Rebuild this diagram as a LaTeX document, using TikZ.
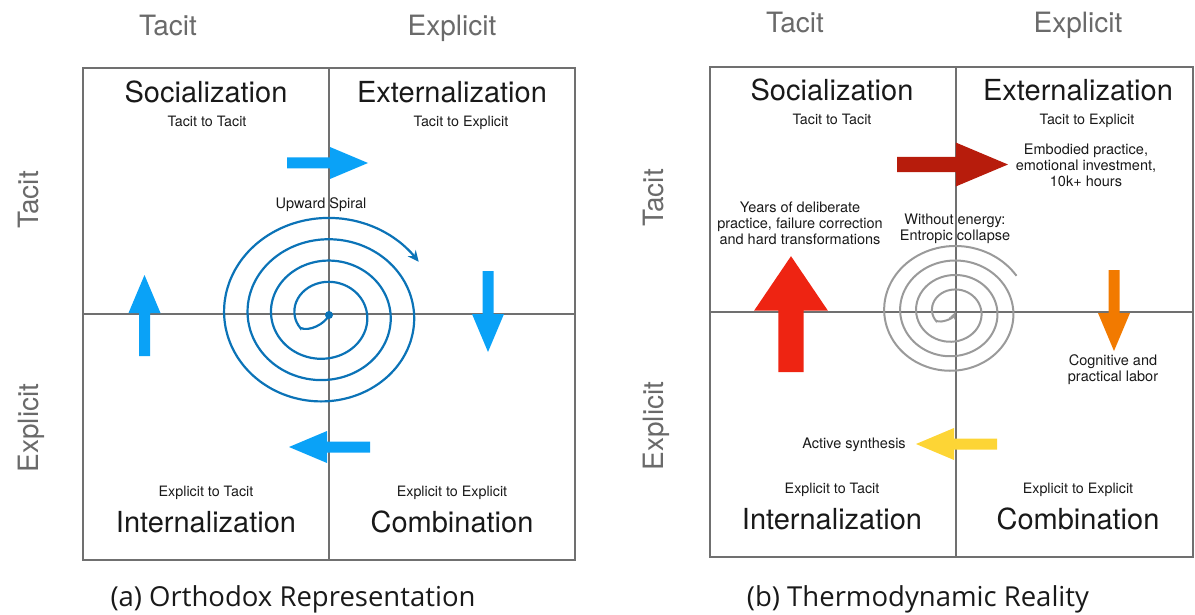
\documentclass[tikz,border=0pt]{standalone}
\usepackage{fontspec}
\setmainfont{TeX Gyre Heros}
\newfontfamily\capfont{Open Sans}
\usetikzlibrary{arrows.meta}

\definecolor{gridgray}{HTML}{707070}
\definecolor{headgray}{HTML}{6A6A6A}
\definecolor{spiralblue}{HTML}{0B73B7}
\definecolor{flowblue}{HTML}{0AA2F7}
\definecolor{flowdarkred}{HTML}{B71C0C}
\definecolor{flowred}{HTML}{EE2412}
\definecolor{floworange}{HTML}{F27A00}
\definecolor{flowyellow}{HTML}{FDD535}
\definecolor{spiralgray}{HTML}{9A9A9A}

% spiral, centre at the origin, turning clockwise outwards
\newcommand{\spiralpath}{(0,0) .. controls (-4,9) and (-20,17) .. (-28.65,12.9)
  -- plot[smooth, samples=180, domain=150:1408, variable=\t]
  ({-4+1.1*(33+0.0593*(\t-270))*cos(\t)}, {(33+0.0593*(\t-270))*sin(\t)})}

\tikzset{
  gridline/.style={draw=gridgray, line width=2pt},
  headlbl/.style={text=headgray, text depth=0pt, font=\fontsize{28}{34}\selectfont},
  modelbl/.style={text=black!90, text depth=0pt, font=\fontsize{29}{35}\selectfont},
  sublbl/.style={text=black!90, text depth=0pt, font=\fontsize{14.3}{17}\selectfont},
  notelbl/.style={text=black!90, align=center, font=\fontsize{14.5}{16}\selectfont},
  caplbl/.style={text=black!90, font=\capfont\fontsize{27.5}{31}\selectfont},
  % block arrow, tail at the origin, pointing right
  flow/.pic={
    \fill[pic actions] (0,-5.5) -- (43,-5.5) -- (43,-16) -- (81,0)
      -- (43,16) -- (43,5.5) -- (0,5.5) -- cycle;
  },
}

\begin{document}
\begin{tikzpicture}[x=1pt, y=-1pt]
  \useasboundingbox (0,0) rectangle (1195,615);

  % (a) orthodox
  \draw[gridline] (83,68) rectangle (575,560);
  \draw[gridline] (329,68) -- (329,560);
  \draw[gridline] (83,314) -- (575,314);

  \node[headlbl] (atacit) at (168,25) {Tacit};
  \node[headlbl] (aexplicit) at (452,25) {Explicit};
  \node[headlbl, rotate=90] (atacitside) at (28,200) {Tacit};
  \node[headlbl, rotate=90] (aexplicitside) at (28,428) {Explicit};

  \node[modelbl] (asoc) at (206,92) {Socialization};
  \node[sublbl] (asocsub) at (207,121) {Tacit to Tacit};
  \node[modelbl] (aext) at (452,92) {Externalization};
  \node[sublbl] (aextsub) at (461,121) {Tacit to Explicit};
  \node[sublbl] (aintsub) at (206,491) {Explicit to Tacit};
  \node[modelbl] (aint) at (206,522) {Internalization};
  \node[sublbl] (acomsub) at (452,491) {Explicit to Explicit};
  \node[modelbl] (acom) at (452,522) {Combination};

  \begin{scope}[shift={(329,315)}]
    \draw[spiralblue, line width=2.2pt, -{Stealth[length=11pt,width=10pt]}] \spiralpath;
    \fill[spiralblue] (0,0) circle (4);
  \end{scope}
  \node[notelbl] (aspiral) at (321,205) {Upward Spiral};

  \pic[fill=flowblue] at (287,163) {flow};
  \pic[fill=flowblue, rotate=-90] at (488,271) {flow};
  \pic[fill=flowblue, rotate=180] at (370,447) {flow};
  \pic[fill=flowblue, rotate=90] at (144.5,356) {flow};

  \node[caplbl] (acap) at (293,599) {(a) Orthodox Representation};

  % (b) thermodynamic
  \draw[gridline] (710,67) rectangle (1193,557);
  \draw[gridline] (955.5,67) -- (955.5,557);
  \draw[gridline] (710,312) -- (1193,312);

  \node[headlbl] (btacit) at (795,22) {Tacit};
  \node[headlbl] (bexplicit) at (1078,22) {Explicit};
  \node[headlbl, rotate=90] (btacitside) at (653,198) {Tacit};
  \node[headlbl, rotate=90] (bexplicitside) at (653,426) {Explicit};

  \node[modelbl] (bsoc) at (832,90) {Socialization};
  \node[sublbl] (bsocsub) at (832,119) {Tacit to Tacit};
  \node[modelbl] (bext) at (1078,90) {Externalization};
  \node[sublbl] (bextsub) at (1087,119) {Tacit to Explicit};
  \node[sublbl] (bintsub) at (832,488) {Explicit to Tacit};
  \node[modelbl] (bint) at (832,519) {Internalization};
  \node[sublbl] (bcomsub) at (1078,488) {Explicit to Explicit};
  \node[modelbl] (bcom) at (1078,519) {Combination};

  \begin{scope}[shift={(955.5,312)}, scale=0.68]
    \draw[spiralgray, line width=2pt, {Stealth[length=8pt,width=7pt]}-] \spiralpath;
  \end{scope}
  \node[notelbl] (bentropy) at (955,229) {Without energy:\\Entropic collapse};

  \pic[fill=flowdarkred, scale=1.37] at (897,164.5) {flow};
  \pic[fill=flowred, rotate=90, xscale=1.43, yscale=2.3] at (791,372) {flow};
  \pic[fill=floworange, rotate=-90] at (1114,270) {flow};
  \pic[fill=flowyellow, rotate=180] at (997,444) {flow};

  \node[notelbl] (bembodied) at (1086,165) {Embodied practice,\\emotional investment,\\10k+ hours};
  \node[notelbl] (byears) at (800,223) {Years of deliberate\\practice, failure correction\\and hard transformations};
  \node[notelbl] (blabor) at (1113,370) {Cognitive and\\practical labor};
  \node[notelbl] (bsynth) at (854,445) {Active synthesis};

  \node[caplbl] (bcap) at (918,599) {(b) Thermodynamic Reality};
\end{tikzpicture}
\end{document}
